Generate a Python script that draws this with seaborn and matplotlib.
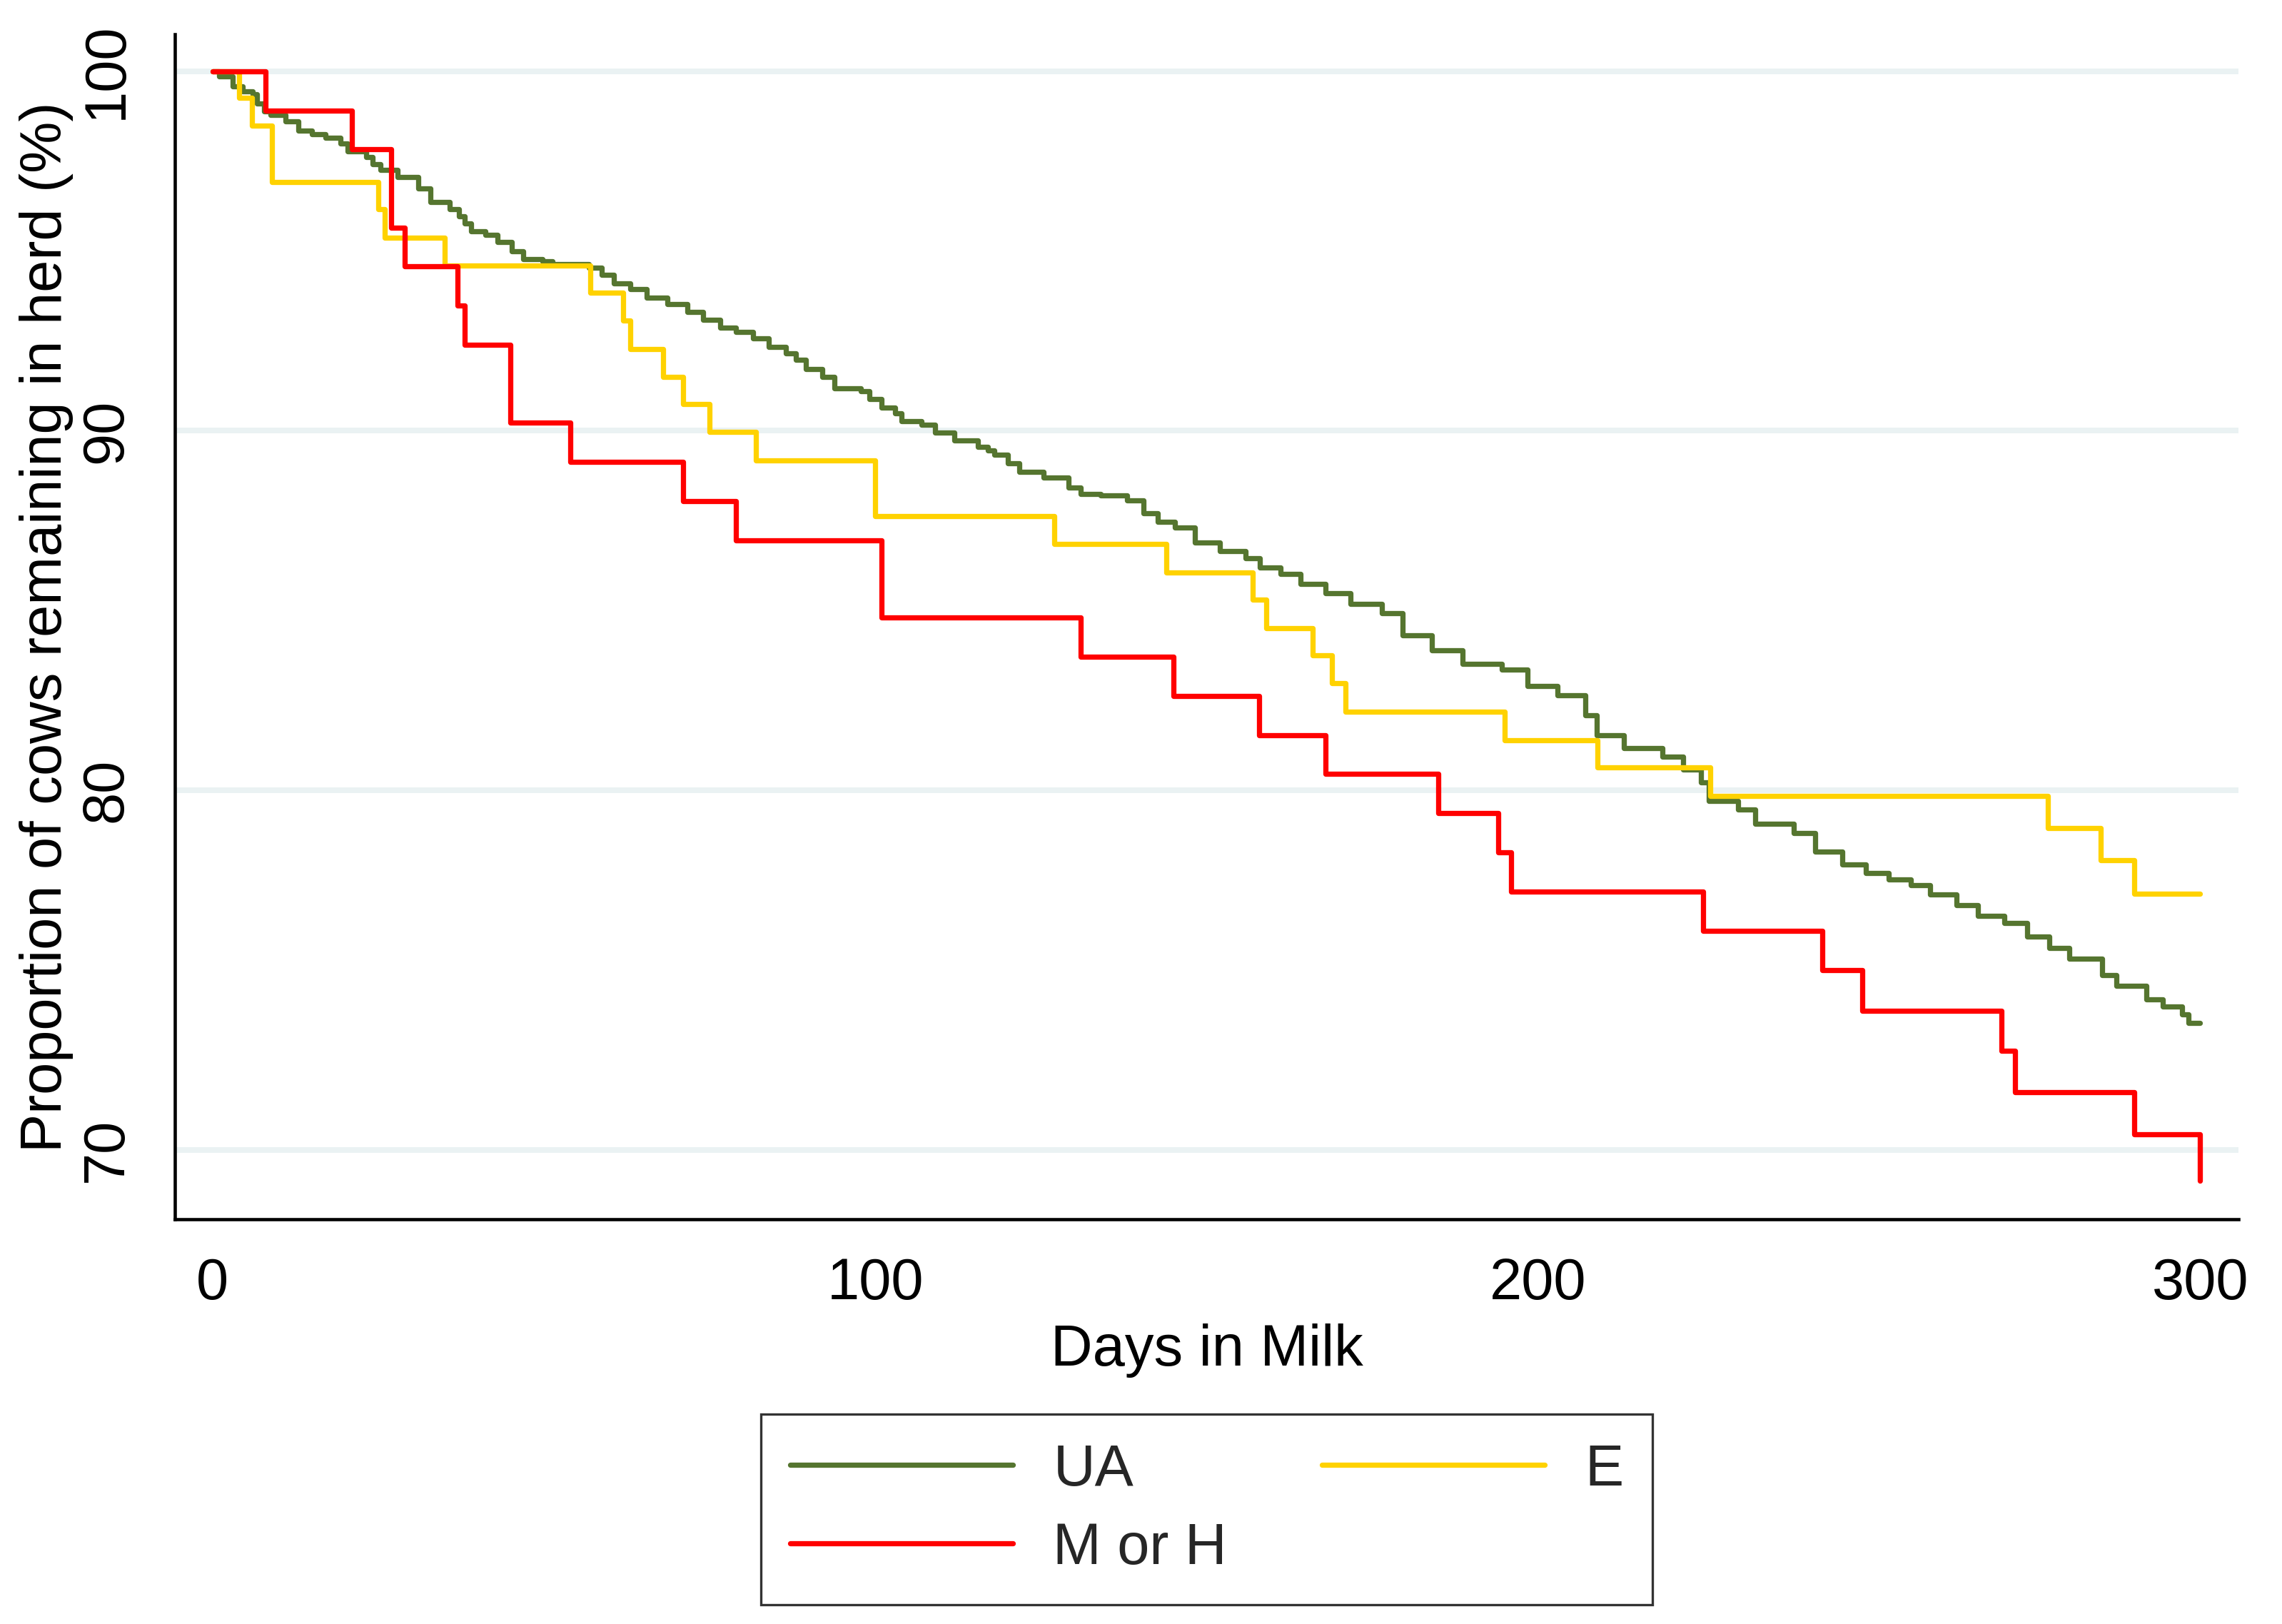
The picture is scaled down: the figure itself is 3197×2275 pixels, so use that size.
import matplotlib
matplotlib.use("Agg")
import pandas as pd
import matplotlib.pyplot as plt
import seaborn as sns

# Kaplan-Meier style survival steps (day, % remaining)
ua_days = [0, 1, 3, 4.5, 6.1, 6.7, 7.8, 8.8, 11, 13, 15, 17, 19.3, 20.4, 23.2, 24.2, 25.3,
           27.9, 31.1, 32.9, 35.8, 37.2, 38.1, 39, 41.2, 43, 45.2, 46.9, 49.8, 51.3, 56.8,
           58.7, 60.6, 63, 65.5, 68.6, 71.7, 74, 76.6, 79, 81.6, 84, 86.5, 88, 89.5, 92,
           93.9, 97.8, 99.1, 101, 103, 104, 107, 109, 112, 115.5, 117, 118, 120, 121.8,
           125.4, 129.2, 131, 134, 138, 140.5, 142.7, 145.3, 148.3, 152, 155.9, 158.1,
           161.2, 164.2, 168, 171.7, 176.5, 179.6, 184, 188.7, 194.6, 198.5, 203, 207.2,
           208.9, 213, 218.8, 222, 224.6, 225.8, 230.3, 232.8, 238.6, 241.9, 246, 249.5,
           253, 256.3, 259.2, 263.2, 266.5, 270.4, 273.9, 277.2, 280.2, 285.2, 287.4,
           291.9, 294.4, 297.3, 298.2, 300]
ua_pct = [100, 99.85, 99.57, 99.44, 99.35, 99.1, 98.88, 98.78, 98.61, 98.35, 98.25, 98.15,
          97.98, 97.76, 97.62, 97.42, 97.26, 97.06, 96.73, 96.37, 96.17, 95.97, 95.77, 95.54,
          95.44, 95.24, 95.0, 94.78, 94.72, 94.64, 94.53, 94.33, 94.1, 93.93, 93.7, 93.53,
          93.31, 93.08, 92.86, 92.74, 92.56, 92.34, 92.16, 91.98, 91.71, 91.49, 91.18, 91.09,
          90.89, 90.65, 90.48, 90.26, 90.16, 89.94, 89.72, 89.55, 89.45, 89.33, 89.1, 88.85,
          88.7, 88.42, 88.25, 88.21, 88.06, 87.7, 87.46, 87.3, 86.9, 86.65, 86.45, 86.19,
          86.02, 85.73, 85.48, 85.18, 84.93, 84.31, 83.9, 83.52, 83.36, 82.9, 82.65, 82.09,
          81.54, 81.18, 80.93, 80.58, 80.22, 79.71, 79.46, 79.06, 78.81, 78.29, 77.94, 77.7,
          77.52, 77.37, 77.1, 76.8, 76.5, 76.3, 75.93, 75.62, 75.32, 74.86, 74.56, 74.19,
          73.99, 73.77, 73.53, 73.53]

e_days = [0, 4, 6, 9, 25, 26, 35, 57, 62, 63, 68, 71, 75, 82, 100, 127, 144, 157, 159,
          166, 169, 171, 195, 209, 226, 277, 285, 290, 300]
e_pct = [100, 99.26, 98.49, 96.92, 96.16, 95.37, 94.59, 93.84, 93.06, 92.28, 91.5, 90.74,
         89.96, 89.17, 87.62, 86.85, 86.05, 85.3, 84.51, 83.75, 82.98, 82.18, 81.39, 80.63,
         79.84, 78.96, 78.05, 77.12, 77.12]

mh_days = [0, 8, 21, 27, 29, 37, 38, 45, 54, 71, 79, 101, 131, 145, 158, 168, 185, 194,
           196, 225, 243, 249, 270, 272, 290, 300]
mh_pct = [100, 98.91, 97.83, 95.65, 94.57, 93.48, 92.39, 90.22, 89.13, 88.04, 86.96, 84.81,
          83.72, 82.63, 81.54, 80.45, 79.37, 78.27, 77.18, 76.09, 75.0, 73.87, 72.76, 71.6,
          70.44, 69.15]

groups = ["UA", "E", "M or H"]
colors = {"UA": "#55752f", "E": "#ffd200", "M or H": "#ff0000"}

df = pd.concat([
    pd.DataFrame({"day": ua_days, "pct": ua_pct, "group": "UA"}),
    pd.DataFrame({"day": e_days, "pct": e_pct, "group": "E"}),
    pd.DataFrame({"day": mh_days, "pct": mh_pct, "group": "M or H"}),
], ignore_index=True)

sns.set_style("white")
plt.rcParams["font.family"] = ["Liberation Sans", "DejaVu Sans"]
fs = 19.5
lw = 1.75

fig = plt.figure(figsize=(3197 / 300, 2275 / 300), dpi=300)
ax = fig.add_axes([0.0766, 0.2492, 0.9044, 0.7298])

sns.lineplot(data=df, x="day", y="pct", hue="group", hue_order=groups, palette=colors,
             estimator=None, sort=False, drawstyle="steps-post", linewidth=lw, ax=ax)

ax.set_xlim(-5.7, 305.8)
ax.set_ylim(68.07, 101.03)
ax.set_xticks([0, 100, 200, 300])
ax.set_yticks([70, 80, 90, 100])
ax.yaxis.grid(True, color="#eaf2f3", linewidth=1.9)
ax.xaxis.grid(False)
ax.set_axisbelow(True)

for s in ["top", "right"]:
    ax.spines[s].set_visible(False)
for s in ["left", "bottom"]:
    ax.spines[s].set_color("black")
    ax.spines[s].set_linewidth(1.1)

ax.tick_params(axis="both", which="major", direction="out", length=7.8, width=0.8,
               color="black", labelsize=fs, labelcolor="black")
ax.tick_params(axis="x", pad=5)
ax.tick_params(axis="y", pad=6)
for lab in ax.get_yticklabels():
    lab.set_rotation(90)
    lab.set_va("center")

ax.set_xlabel("Days in Milk", fontsize=fs, labelpad=4, color="black")
ax.set_ylabel("Proportion of cows remaining in herd (%)", fontsize=fs, labelpad=2, color="black")

ax.get_legend().remove()
order = ["UA", "M or H", "E"]
handles = [plt.Line2D([], [], color=colors[g], linewidth=lw) for g in order]
leg = fig.legend(handles, order, loc="upper center", bbox_to_anchor=(0.5288, 0.1292),
                 ncol=2, fontsize=fs, frameon=True, fancybox=False, edgecolor="black",
                 handlelength=3.85, handletextpad=0.69, columnspacing=1.63,
                 borderpad=0.5, labelspacing=0.42, borderaxespad=0)
leg.get_frame().set_linewidth(0.8)

fig.savefig("out.png", dpi=300)
